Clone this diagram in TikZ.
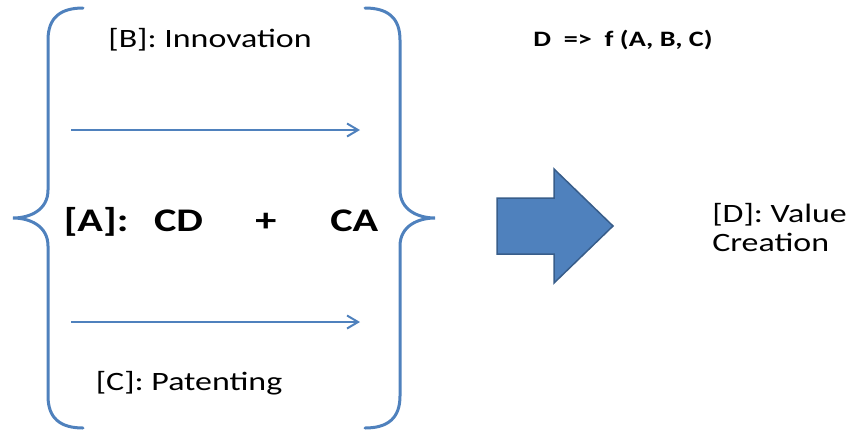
\documentclass[tikz,border=0pt]{standalone}
\usepackage{fontspec}
\setmainfont{Carlito}
\usetikzlibrary{arrows.meta}
\definecolor{officeblue}{RGB}{79,129,189}
\definecolor{officedark}{RGB}{56,93,138}
\tikzset{
  brace/.style={draw=officeblue, line width=3pt, line cap=round},
  flow/.style={draw=officeblue, line width=2pt, -{Straight Barb[length=11pt,width=13pt,line width=2pt]}},
  txt/.style={inner sep=0pt, xscale=1.28, font=\fontsize{26.5}{29}\selectfont},
  bigtxt/.style={inner sep=0pt, xscale=1.28, font=\bfseries\fontsize{33}{36}\selectfont},
  smalltxt/.style={inner sep=0pt, xscale=1.28, font=\bfseries\fontsize{22}{24}\selectfont},
  blockarrow/.style={fill=officeblue, draw=officedark, line width=1.5pt, line join=miter}
}
\begin{document}
\begin{tikzpicture}[x=1pt,y=-1pt]
\useasboundingbox (0,0) rectangle (848,432);
% braces
\draw[brace] (83,8) .. controls (60,8) and (48,18) .. (48,40) -- (48,190)
  .. controls (48,210) and (30,218) .. (13,218)
  .. controls (30,218) and (48,226) .. (48,246) -- (48,396)
  .. controls (48,418) and (60,428) .. (83,428);
\draw[brace] (365,8) .. controls (388,8) and (400,18) .. (400,40) -- (400,190)
  .. controls (400,210) and (418,218) .. (435,218)
  .. controls (418,218) and (400,226) .. (400,246) -- (400,396)
  .. controls (400,418) and (388,428) .. (365,428);

\node[txt] (innov) at (210,40) {[B]: Innovation};
\node[txt] (patent) at (189,383) {[C]: Patenting};
\node[bigtxt] (cdca) at (221,222) {[A]:\hspace{20pt}CD\hspace{41pt}+\hspace{42pt}CA};

\coordinate (b0) at (71,130);
\coordinate (b1) at (360,130);
\coordinate (c0) at (71,322);
\coordinate (c1) at (360,322);
\draw[flow] (b0) -- (b1);
\draw[flow] (c0) -- (c1);

% block arrow
\draw[blockarrow] (497,198) -- (554,198) -- (554,169) -- (613,226) -- (554,283)
  -- (554,254) -- (497,254) -- cycle;

\node[smalltxt] (formula) at (623,40) {D\ \ =>\ \ f (A, B, C)};
\node[txt, anchor=west, align=left] (value) at (712,228) {[D]: Value\\Creation};
\end{tikzpicture}
\end{document}
